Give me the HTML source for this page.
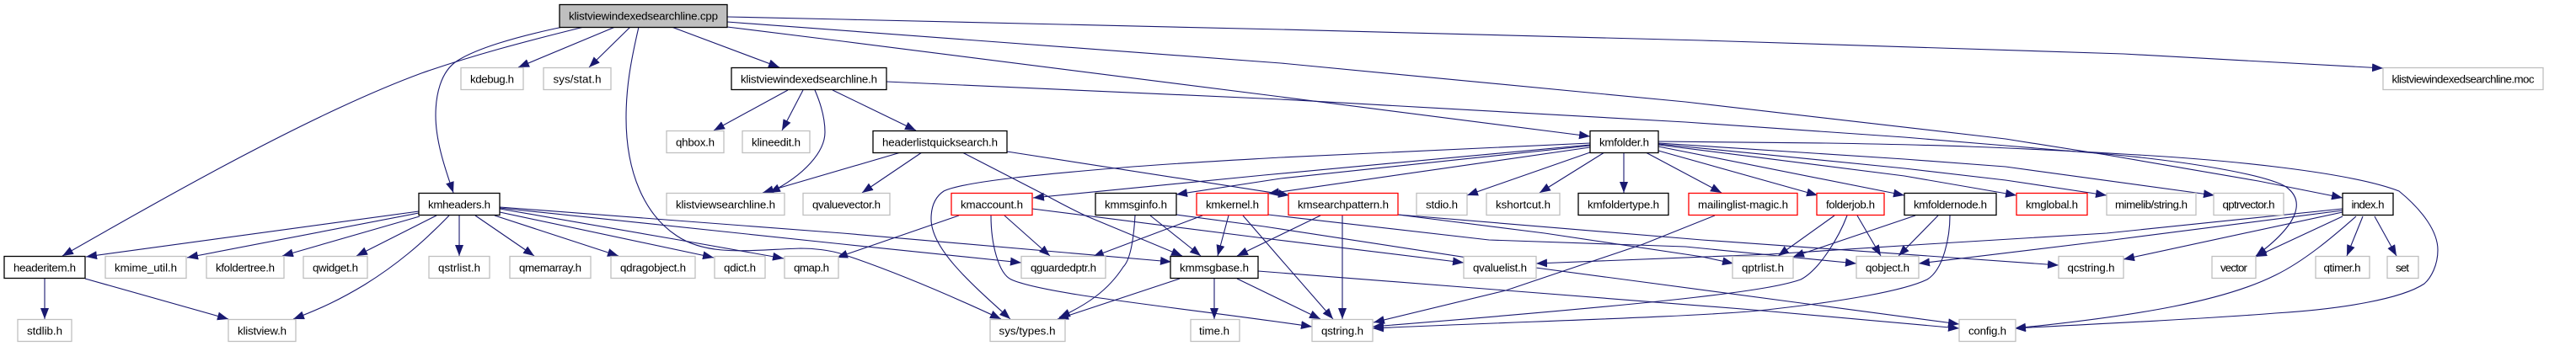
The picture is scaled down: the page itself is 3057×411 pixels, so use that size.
<!DOCTYPE html>
<html><head><meta charset="utf-8"><title>klistviewindexedsearchline.cpp</title>
<style>
html,body{margin:0;padding:0;background:#fff}
svg{display:block}
text{font-family:"Liberation Sans",sans-serif;font-size:13.33px;fill:#000;text-anchor:middle}
.e path{fill:none;stroke:#191970;stroke-width:1.1;marker-end:url(#a)}
.g{fill:#fff;stroke:#bfbfbf;stroke-width:1.3}
.b{fill:#fff;stroke:#000;stroke-width:1.3}
.r{fill:#fff;stroke:#f00;stroke-width:1.3}
.c{fill:#bfbfbf;stroke:#000;stroke-width:1.3}
</style></head><body>
<svg xmlns="http://www.w3.org/2000/svg" width="3057" height="411" viewBox="0 0 3057 411">
<defs><marker id="a" markerUnits="userSpaceOnUse" markerWidth="14" markerHeight="11" refX="13" refY="5" orient="auto"><path d="M0,0L13,5L0,10z" fill="#191970"/></marker></defs>
<rect width="3057" height="411" fill="#fff"/>
<g class="e">
<path d="M693,32C620,50 560,66 500,87C370,135 200,232 74,304"/>
<path d="M668,32C610,44 565,58 543,72C522,85 517,115 517,137C517,170 530,205 538,229"/>
<path d="M730,32L615,80"/>
<path d="M748,32L699,80"/>
<path d="M758,32C748,75 743,105 743,140C743,205 765,255 803,280C840,305 890,297 950,295C965,295 985,297 1000,302C1060,322 1130,352 1188,379"/>
<path d="M797,32L925,80"/>
<path d="M863,32L1000,49L1520,115L1887,162"/>
<path d="M863,26L1520,75L2000,121L2380,165L2500,184L2680,215L2780,235"/>
<path d="M863,20L1000,23L1520,35L2020,48L2520,64L2828,81"/>
<path d="M935,107L847,155"/>
<path d="M953,107L928,155"/>
<path d="M967,107C977,130 979,145 979,157C979,180 955,208 913,229"/>
<path d="M988,107L1087,155"/>
<path d="M1052,97L1520,118L2000,145L2260,163L2380,173L2500,183C2600,192 2690,208 2713,222C2735,238 2730,265 2677,304"/>
<path d="M1069,181L905,229"/>
<path d="M1094,181L1023,229"/>
<path d="M1142,181L1243,233C1265,245 1275,250 1290,257L1403,304"/>
<path d="M1195,180L1530,232"/>
<path d="M1887,170L1520,187C1450,191 1390,194 1320,200C1250,206 1145,215 1120,227C1108,235 1105,248 1105,260C1105,295 1150,335 1199,379"/>
<path d="M1887,172L1500,208L1226,235"/>
<path d="M1887,173L1520,212L1396,231"/>
<path d="M1887,175L1505,230"/>
<path d="M1887,181L1741,232"/>
<path d="M1904,181L1827,229"/>
<path d="M1927,181L1927,229"/>
<path d="M1953,181L2043,229"/>
<path d="M1968,179L2157,232"/>
<path d="M1968,174L2260,232"/>
<path d="M1968,172L2260,209L2393,232"/>
<path d="M1968,171L2260,200L2380,214L2500,232"/>
<path d="M1968,170L2260,189L2380,198L2628,232"/>
<path d="M1968,168L2167,170C2300,172 2380,175 2520,183C2650,190 2790,205 2847,227C2875,250 2893,275 2893,297C2893,315 2885,330 2877,337C2850,355 2780,367 2700,372C2600,380 2480,385 2391,390"/>
<path d="M1138,256L993,306"/>
<path d="M1192,256L1246,304"/>
<path d="M1176,256C1176,290 1185,325 1200,332C1240,350 1400,365 1557,388"/>
<path d="M1225,248L1500,283L1737,312"/>
<path d="M1396,255L1500,269L1800,315L2325,385"/>
<path d="M1347,256C1345,290 1340,310 1333,317C1315,345 1290,362 1257,377"/>
<path d="M1365,256L1425,304"/>
<path d="M1427,256L1297,305"/>
<path d="M1458,256L1445,304"/>
<path d="M1475,256L1520,308L1582,379"/>
<path d="M1505,255L1767,285L2000,293L2203,313"/>
<path d="M1567,256L1468,304"/>
<path d="M1593,256L1593,379"/>
<path d="M1659,255L2020,285L2443,315"/>
<path d="M1659,255L1833,277L2020,305L2057,313"/>
<path d="M1400,331L1255,379"/>
<path d="M1441,331L1441,379"/>
<path d="M1468,331L1567,379"/>
<path d="M1493,322L1787,345L2080,368L2325,390"/>
<path d="M2035,256L1950,290L1787,345L1630,383"/>
<path d="M2177,256L2110,304"/>
<path d="M2204,256L2232,304"/>
<path d="M2192,256C2183,280 2160,320 2137,332C2100,345 2000,358 1629,388"/>
<path d="M2273,256L2128,305"/>
<path d="M2300,256L2253,304"/>
<path d="M2314,256C2314,280 2307,320 2287,332C2260,345 2190,358 2087,369C2000,377 1800,382 1629,390"/>
<path d="M2780,248L2500,277L2287,290L2100,302L1823,313"/>
<path d="M2780,250L2500,286L2277,313"/>
<path d="M2780,252L2520,308"/>
<path d="M2780,257L2677,305"/>
<path d="M2804,257L2785,304"/>
<path d="M2818,257L2844,304"/>
<path d="M2796,257C2770,280 2735,310 2700,327C2640,357 2540,375 2391,390"/>
<path d="M497,251L102,305"/>
<path d="M497,253L222,306"/>
<path d="M498,257L335,304"/>
<path d="M518,256L423,304"/>
<path d="M533,256C500,290 470,315 433,338C405,355 380,367 348,379"/>
<path d="M545,256L545,304"/>
<path d="M564,256L634,304"/>
<path d="M587,256L734,304"/>
<path d="M593,252L847,306"/>
<path d="M593,248L800,284L930,307"/>
<path d="M593,247L1000,290L1212,312"/>
<path d="M593,246L1000,277L1390,311"/>
<path d="M53,331L53,379"/>
<path d="M101,331L271,379"/>
</g>
<g>
<rect class="c" x="664" y="5.500" width="199" height="27"/><text x="763.500" y="23.500" textLength="177">klistviewindexedsearchline.cpp</text>
<rect class="g" x="547" y="80.500" width="74" height="26"/><text x="584" y="98.500" textLength="52">kdebug.h</text>
<rect class="g" x="645" y="80.500" width="80" height="26"/><text x="685" y="98.500" textLength="57">sys/stat.h</text>
<rect class="b" x="868" y="80.500" width="184" height="26"/><text x="960" y="98.500" textLength="162">klistviewindexedsearchline.h</text>
<rect class="g" x="2828" y="80.500" width="190" height="26"/><text x="2923" y="98.500" textLength="169">klistviewindexedsearchline.moc</text>
<rect class="g" x="791" y="155.500" width="68" height="26"/><text x="825" y="173.500" textLength="46">qhbox.h</text>
<rect class="g" x="881" y="155.500" width="80" height="26"/><text x="921" y="173.500" textLength="58">klineedit.h</text>
<rect class="b" x="1036" y="155.500" width="159" height="26"/><text x="1115.500" y="173.500" textLength="137">headerlistquicksearch.h</text>
<rect class="b" x="1887" y="155.500" width="81" height="26"/><text x="1927.500" y="173.500" textLength="59">kmfolder.h</text>
<rect class="b" x="497" y="229.500" width="96" height="26"/><text x="545" y="247.500" textLength="74">kmheaders.h</text>
<rect class="g" x="791" y="229.500" width="140" height="26"/><text x="861" y="247.500" textLength="118">klistviewsearchline.h</text>
<rect class="g" x="953" y="229.500" width="103" height="26"/><text x="1004.500" y="247.500" textLength="81">qvaluevector.h</text>
<rect class="r" x="1129" y="229.500" width="96" height="26"/><text x="1177" y="247.500" textLength="74">kmaccount.h</text>
<rect class="b" x="1300" y="229.500" width="96" height="26"/><text x="1348" y="247.500" textLength="74">kmmsginfo.h</text>
<rect class="r" x="1420" y="229.500" width="85" height="26"/><text x="1462.500" y="247.500" textLength="63">kmkernel.h</text>
<rect class="r" x="1529" y="229.500" width="130" height="26"/><text x="1594" y="247.500" textLength="108">kmsearchpattern.h</text>
<rect class="g" x="1681" y="229.500" width="60" height="26"/><text x="1711" y="247.500" textLength="38">stdio.h</text>
<rect class="g" x="1764" y="229.500" width="87" height="26"/><text x="1807.500" y="247.500" textLength="65">kshortcut.h</text>
<rect class="b" x="1873" y="229.500" width="107" height="26"/><text x="1926.500" y="247.500" textLength="85">kmfoldertype.h</text>
<rect class="r" x="2004" y="229.500" width="129" height="26"/><text x="2068.500" y="247.500" textLength="107">mailinglist-magic.h</text>
<rect class="r" x="2156" y="229.500" width="80" height="26"/><text x="2196" y="247.500" textLength="58">folderjob.h</text>
<rect class="b" x="2260" y="229.500" width="109" height="26"/><text x="2314.500" y="247.500" textLength="87">kmfoldernode.h</text>
<rect class="r" x="2393" y="229.500" width="84" height="26"/><text x="2435" y="247.500" textLength="62">kmglobal.h</text>
<rect class="g" x="2500" y="229.500" width="106" height="26"/><text x="2553" y="247.500" textLength="86">mimelib/string.h</text>
<rect class="g" x="2627" y="229.500" width="83" height="26"/><text x="2668.500" y="247.500" textLength="62">qptrvector.h</text>
<rect class="b" x="2780" y="229.500" width="60" height="26"/><text x="2810" y="247.500" textLength="39">index.h</text>
<rect class="b" x="5" y="304.500" width="96" height="26"/><text x="53" y="322.500" textLength="74">headeritem.h</text>
<rect class="g" x="125" y="304.500" width="96" height="26"/><text x="173" y="322.500" textLength="74">kmime_util.h</text>
<rect class="g" x="245" y="304.500" width="92" height="26"/><text x="291" y="322.500" textLength="70">kfoldertree.h</text>
<rect class="g" x="360" y="304.500" width="76" height="26"/><text x="398" y="322.500" textLength="54">qwidget.h</text>
<rect class="g" x="509" y="304.500" width="72" height="26"/><text x="545" y="322.500" textLength="50">qstrlist.h</text>
<rect class="g" x="605" y="304.500" width="96" height="26"/><text x="653" y="322.500" textLength="74">qmemarray.h</text>
<rect class="g" x="725" y="304.500" width="100" height="26"/><text x="775" y="322.500" textLength="78">qdragobject.h</text>
<rect class="g" x="848" y="304.500" width="60" height="26"/><text x="878" y="322.500" textLength="38">qdict.h</text>
<rect class="g" x="931" y="304.500" width="64" height="26"/><text x="963" y="322.500" textLength="42">qmap.h</text>
<rect class="g" x="1212" y="304.500" width="100" height="26"/><text x="1262" y="322.500" textLength="78">qguardedptr.h</text>
<rect class="b" x="1389" y="304.500" width="104" height="26"/><text x="1441" y="322.500" textLength="82">kmmsgbase.h</text>
<rect class="g" x="1737" y="304.500" width="86" height="26"/><text x="1780" y="322.500" textLength="64">qvaluelist.h</text>
<rect class="g" x="2056" y="304.500" width="72" height="26"/><text x="2092" y="322.500" textLength="50">qptrlist.h</text>
<rect class="g" x="2203" y="304.500" width="74" height="26"/><text x="2240" y="322.500" textLength="52">qobject.h</text>
<rect class="g" x="2443" y="304.500" width="77" height="26"/><text x="2481.500" y="322.500" textLength="56">qcstring.h</text>
<rect class="g" x="2625" y="304.500" width="52" height="26"/><text x="2651" y="322.500" textLength="32">vector</text>
<rect class="g" x="2748" y="304.500" width="64" height="26"/><text x="2779.500" y="322.500" textLength="44">qtimer.h</text>
<rect class="g" x="2833" y="304.500" width="37" height="26"/><text x="2851" y="322.500" textLength="16">set</text>
<rect class="g" x="21" y="379.500" width="64" height="26"/><text x="53" y="397.500" textLength="42">stdlib.h</text>
<rect class="g" x="271" y="379.500" width="80" height="26"/><text x="311" y="397.500" textLength="58">klistview.h</text>
<rect class="g" x="1175" y="379.500" width="89" height="26"/><text x="1219" y="397.500" textLength="67">sys/types.h</text>
<rect class="g" x="1413" y="379.500" width="58" height="26"/><text x="1441" y="397.500" textLength="36">time.h</text>
<rect class="g" x="1557" y="379.500" width="72" height="26"/><text x="1593" y="397.500" textLength="50">qstring.h</text>
<rect class="g" x="2325" y="379.500" width="67" height="26"/><text x="2358.500" y="397.500" textLength="45">config.h</text>
</g>
</svg>
</body></html>
